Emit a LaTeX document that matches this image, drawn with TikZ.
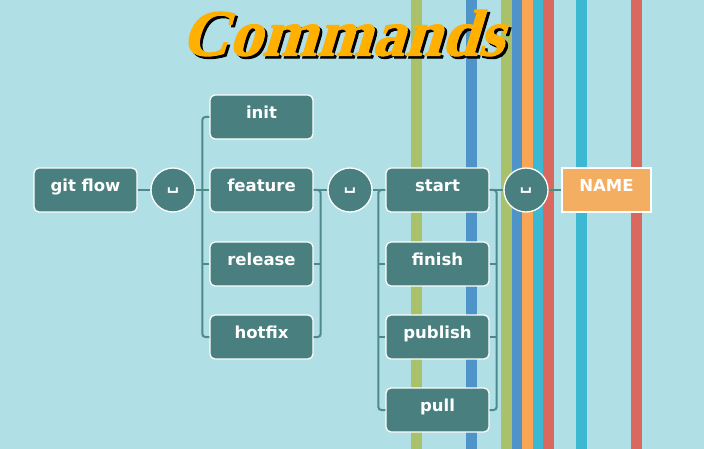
\documentclass[tikz,border=0pt]{standalone}
\usepackage{fontspec}
\setmainfont{DejaVu Sans}
\newfontfamily\titlefont{Liberation Serif Bold}[FakeSlant=0.3,FakeBold=1.5]
\newfontfamily\boxfont{DejaVu Sans Bold}
\definecolor{bgc}{HTML}{B0DFE5}
\definecolor{sgreen}{HTML}{A9C16B}
\definecolor{sblue}{HTML}{4F94C8}
\definecolor{sorange}{HTML}{F8A655}
\definecolor{scyan}{HTML}{3DB8D3}
\definecolor{sred}{HTML}{D9695F}
\definecolor{boxc}{HTML}{4A7F7F}
\definecolor{connc}{HTML}{4E8A8A}
\definecolor{namec}{HTML}{F4AE62}
\definecolor{titlec}{HTML}{FFB000}
\tikzset{
  cmdbox/.style={draw=white, line width=1.3pt, fill=boxc, rounded corners=5pt,
    minimum width=103pt, minimum height=44pt, inner sep=0pt,
    text height=7pt, text depth=4pt, text=white,
    font=\boxfont\fontsize{16.5}{18}\selectfont},
  namebox/.style={cmdbox, fill=namec, rounded corners=0pt, minimum width=89pt},
  spacecirc/.style={circle, draw=white, line width=1.3pt, fill=boxc,
    minimum size=44pt, inner sep=0pt, text=white,
    font=\boxfont\fontsize{17}{18}\selectfont},
  conn/.style={draw=connc, line width=2pt, rounded corners=3pt},
  stripe/.style={line width=11pt},
  titletext/.style={font=\titlefont\fontsize{66}{70}\selectfont, inner sep=0pt},
}
\begin{document}
\begin{tikzpicture}[x=1pt,y=-1pt]
\fill[bgc] (0,0) rectangle (704,449);
\useasboundingbox (0,0) rectangle (704,449);
% stripes
\foreach \x/\c in {416.5/sgreen, 471.5/sblue, 506.5/sgreen, 517/sblue, 527.5/sorange, 538/scyan, 548/sred, 581.5/scyan, 636.5/sred}
  \draw[stripe, \c] (\x,0) -- (\x,449);
% title
\node[titletext, text=black] (titleshadow) at (344.5,35.5) {Commands};
\node[titletext, text=titlec] (title) at (342,33) {Commands};
% nodes
\node[cmdbox] (gitflow) at (85.5,190) {git flow};
\node[spacecirc] (c1) at (173,190) {\raisebox{-3pt}{␣}};
\node[cmdbox] (init) at (261.5,117) {init};
\node[cmdbox] (feature) at (261.5,190) {feature};
\node[cmdbox] (release) at (261.5,264) {release};
\node[cmdbox] (hotfix) at (261.5,337) {hotfix};
\node[spacecirc] (c2) at (350,190) {\raisebox{-3pt}{␣}};
\node[cmdbox] (start) at (437.5,190) {start};
\node[cmdbox] (finish) at (437.5,264) {finish};
\node[cmdbox] (publish) at (437.5,337) {publish};
\node[cmdbox] (pull) at (437.5,410) {pull};
\node[spacecirc] (c3) at (526,190) {\raisebox{-3pt}{␣}};
\node[namebox] (name) at (606.5,190) {NAME};
% connectors
\draw[conn] (gitflow.east) -- (c1.west);
\draw[conn] (c1.east) -- (feature.west);
\draw[conn] (init.west) -- ++(-7,0) |- (hotfix.west);
\draw[conn] (release.west) -- ++(-7,0);
\draw[conn] (feature.east) -- (c2.west);
\draw[conn] (hotfix.east) -- ++(7,0) |- (feature.east);
\draw[conn] (release.east) -- ++(7,0);
\draw[conn] (c2.east) -- (start.west);
\draw[conn] (start.west) -- ++(-7,0) |- (pull.west);
\draw[conn] (finish.west) -- ++(-7,0);
\draw[conn] (publish.west) -- ++(-7,0);
\draw[conn] (start.east) -- (c3.west);
\draw[conn] (pull.east) -- ++(7,0) |- (start.east);
\draw[conn] (finish.east) -- ++(7,0);
\draw[conn] (publish.east) -- ++(7,0);
\draw[conn] (c3.east) -- (name.west);
\end{tikzpicture}
\end{document}
